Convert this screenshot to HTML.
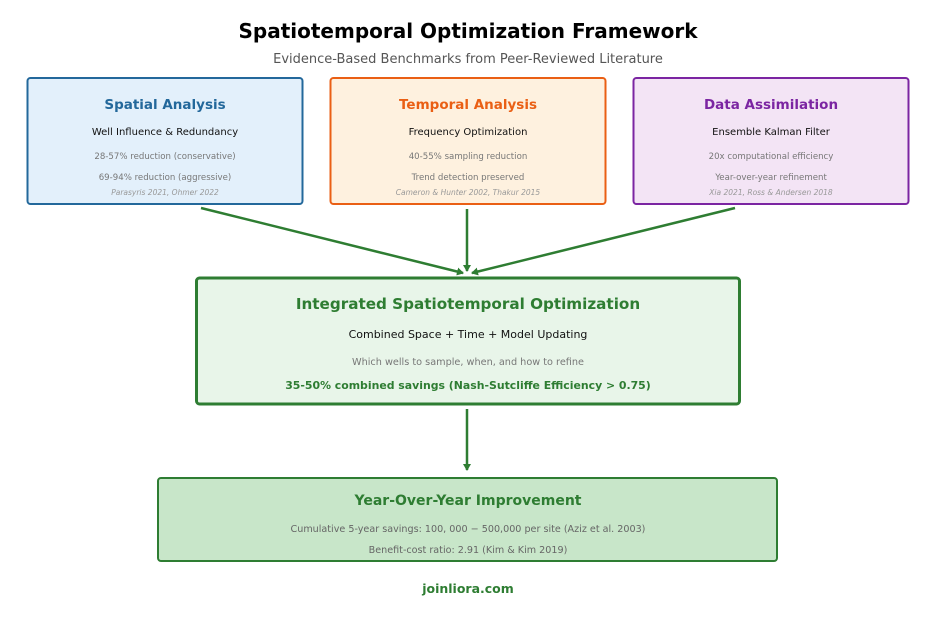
<!DOCTYPE html>
<html><head><meta charset="utf-8"><style>html,body{margin:0;padding:0;background:#fff}svg{display:block}text{font-family:"DejaVu Sans","Liberation Sans",sans-serif}</style></head>
<body>
<svg width="936" height="621" viewBox="0 0 936 621" xmlns="http://www.w3.org/2000/svg">
<defs><marker id="ah" markerWidth="8" markerHeight="8" refX="6" refY="4" orient="auto" markerUnits="userSpaceOnUse"><path d="M0,0 L7,4 L0,8 Z" fill="#2e7d32"/></marker></defs>
<text x="468" y="38" text-anchor="middle" font-size="20" font-weight="bold" fill="#000">Spatiotemporal Optimization Framework</text>
<text x="468" y="63" text-anchor="middle" font-size="13" fill="#555">Evidence-Based Benchmarks from Peer-Reviewed Literature</text>

<rect x="27.5" y="78" width="275" height="126" rx="3" fill="#e3f0fb" stroke="#23689b" stroke-width="2"/>
<text x="165" y="109" text-anchor="middle" font-size="13.5" font-weight="bold" fill="#23689b">Spatial Analysis</text>
<text x="165" y="135" text-anchor="middle" font-size="10" fill="#111">Well Influence &amp; Redundancy</text>
<text x="165" y="159" text-anchor="middle" font-size="8.6" fill="#777">28-57% reduction (conservative)</text>
<text x="165" y="180" text-anchor="middle" font-size="8.6" fill="#777">69-94% reduction (aggressive)</text>
<text x="165" y="195" text-anchor="middle" font-size="7.5" font-style="italic" fill="#999">Parasyris 2021, Ohmer 2022</text>

<rect x="330.5" y="78" width="275" height="126" rx="3" fill="#fef1df" stroke="#ea5f14" stroke-width="2"/>
<text x="468" y="109" text-anchor="middle" font-size="13.5" font-weight="bold" fill="#ea5f14">Temporal Analysis</text>
<text x="468" y="135" text-anchor="middle" font-size="10" fill="#111">Frequency Optimization</text>
<text x="468" y="159" text-anchor="middle" font-size="8.6" fill="#777">40-55% sampling reduction</text>
<text x="468" y="180" text-anchor="middle" font-size="8.6" fill="#777">Trend detection preserved</text>
<text x="468" y="195" text-anchor="middle" font-size="7.5" font-style="italic" fill="#999">Cameron &amp; Hunter 2002, Thakur 2015</text>

<rect x="633.5" y="78" width="275" height="126" rx="3" fill="#f3e4f5" stroke="#7b25a2" stroke-width="2"/>
<text x="771" y="109" text-anchor="middle" font-size="13.5" font-weight="bold" fill="#7b25a2">Data Assimilation</text>
<text x="771" y="135" text-anchor="middle" font-size="10" fill="#111">Ensemble Kalman Filter</text>
<text x="771" y="159" text-anchor="middle" font-size="8.6" fill="#777">20x computational efficiency</text>
<text x="771" y="180" text-anchor="middle" font-size="8.6" fill="#777">Year-over-year refinement</text>
<text x="771" y="195" text-anchor="middle" font-size="7.5" font-style="italic" fill="#999">Xia 2021, Ross &amp; Andersen 2018</text>

<g stroke="#2e7d32" stroke-width="2.5" fill="none">
<line x1="201" y1="208" x2="463" y2="273" marker-end="url(#ah)"/>
<line x1="467" y1="209" x2="467" y2="271" marker-end="url(#ah)"/>
<line x1="735" y1="208" x2="472" y2="273" marker-end="url(#ah)"/>
<line x1="467" y1="409" x2="467" y2="470" marker-end="url(#ah)"/>
</g>

<rect x="196.5" y="278" width="543" height="126" rx="3" fill="#e8f5e9" stroke="#2e7d32" stroke-width="3"/>
<text x="468" y="309" text-anchor="middle" font-size="15.2" font-weight="bold" fill="#2e7d32">Integrated Spatiotemporal Optimization</text>
<text x="468" y="338" text-anchor="middle" font-size="11" fill="#111">Combined Space + Time + Model Updating</text>
<text x="468" y="365" text-anchor="middle" font-size="9.7" fill="#777">Which wells to sample, when, and how to refine</text>
<text x="468" y="389" text-anchor="middle" font-size="10.9" font-weight="bold" fill="#2e7d32">35-50% combined savings (Nash-Sutcliffe Efficiency &gt; 0.75)</text>

<rect x="158" y="478" width="619" height="83" rx="3" fill="#c8e6c9" stroke="#2e7d32" stroke-width="2"/>
<text x="468" y="505" text-anchor="middle" font-size="14" font-weight="bold" fill="#2e7d32">Year-Over-Year Improvement</text>
<text x="468" y="532" text-anchor="middle" font-size="9.6" fill="#666">Cumulative 5-year savings: 100, 000 − 500,000 per site (Aziz et al. 2003)</text>
<text x="468" y="553" text-anchor="middle" font-size="9.6" fill="#666">Benefit-cost ratio: 2.91 (Kim &amp; Kim 2019)</text>

<text x="468" y="593" text-anchor="middle" font-size="12.5" font-weight="bold" fill="#2e7d32">joinliora.com</text>
</svg>
</body></html>
